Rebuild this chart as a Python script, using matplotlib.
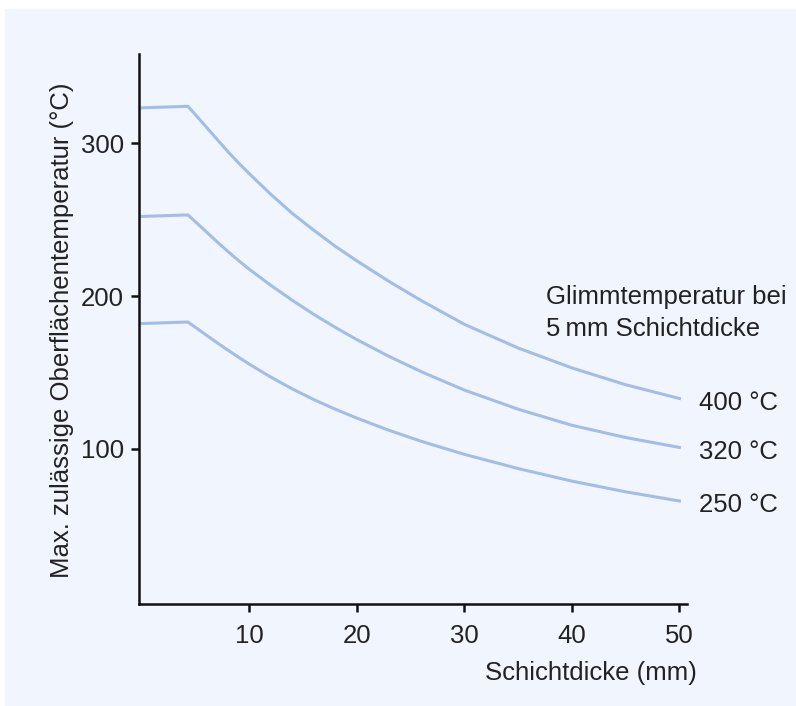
import numpy as np
import matplotlib
matplotlib.use('Agg')
import matplotlib.pyplot as plt
from matplotlib.patches import Rectangle

plt.rcParams['font.family'] = ['Liberation Sans', 'DejaVu Sans']

# ── Data ──
thickness = [0, 4.3, 5, 6, 7, 8, 9, 10, 12, 14, 16, 18, 20, 23, 26, 30, 35, 40, 45, 50]
t_400 = [323, 324, 318.5, 310.5, 302.5, 294.5, 287, 280, 266.5, 254, 243, 232.5, 223,
         209.5, 197, 181.5, 166, 153, 142, 133]
t_320 = [252, 253, 248.5, 242, 235.5, 229.2, 223.2, 217.5, 207, 197.2, 188, 179.5, 171.5,
         160.5, 150.5, 138.5, 126, 115.5, 107.5, 101]
t_250 = [182, 183, 179.5, 174.5, 169.5, 164.7, 160, 155.5, 147, 139.3, 132.3, 126, 120.2,
         112.2, 105, 96.5, 87.2, 79, 72, 66]
curve_labels = ['400 °C', '320 °C', '250 °C']
x_ticks = [10, 20, 30, 40, 50]
y_ticks = [100, 200, 300]

LINE = '#a3bee6'
TXT = '#222222'
PANEL = '#f1f5fd'
FS = 18.5

fig = plt.figure(figsize=(7.96, 7.06), dpi=100, facecolor='white')
# light blue panel behind everything
fig.patches.append(Rectangle((5 / 796, 0), 1, 1 - 9 / 706, transform=fig.transFigure,
                             facecolor=PANEL, edgecolor='none', zorder=-10))

ax = fig.add_axes([139 / 796, 0.1441, 548 / 796, 0.779])
ax.set_zorder(5)
ax.set_facecolor('none')

for ys in (t_400, t_320, t_250):
    ax.plot(thickness, ys, color=LINE, linewidth=2.2, solid_joinstyle='round')

ax.set_xlim(-0.25, 50.7)
ax.set_ylim(-1.5, 358)
ax.set_xticks(x_ticks)
ax.set_yticks(y_ticks)

for s in ('top', 'right'):
    ax.spines[s].set_visible(False)
for s in ('left', 'bottom'):
    ax.spines[s].set_color('#111111')
    ax.spines[s].set_linewidth(1.8)

ax.tick_params(axis='both', direction='out', length=6, width=1.8, color='#111111',
               labelsize=FS, labelcolor=TXT)
ax.tick_params(axis='y', pad=5)
ax.tick_params(axis='x', pad=8)

# curve end labels
for ys, lab in zip((t_400, t_320, t_250), curve_labels):
    ax.annotate(lab, xy=(thickness[-1], ys[-1]), xytext=(14, -3), textcoords='offset points',
                ha='left', va='center', fontsize=FS, color=TXT)

ax.text(37.6, 189, 'Glimmtemperatur bei\n5\u2009mm Schichtdicke', ha='left', va='center',
        fontsize=FS, color=TXT, linespacing=1.4)

fig.text(697 / 796, 1 - 673 / 706, 'Schichtdicke (mm)', ha='right', va='center',
         fontsize=FS, color=TXT)
fig.text(62 / 796, 1 - 330 / 706, 'Max. zulässige Oberflächentemperatur (°C)', ha='center',
         va='center', rotation=90, fontsize=FS, color=TXT)

fig.savefig('out.png', dpi=100, facecolor='white')
